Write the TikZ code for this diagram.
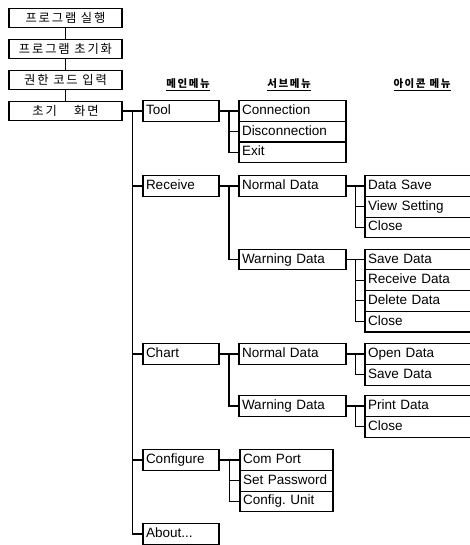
\documentclass[tikz,border=0pt]{standalone}
\usepackage{fontspec}
\setmainfont{Liberation Sans}
\newfontfamily\krfont[LetterSpace=15]{Noto Sans CJK KR}
\usetikzlibrary{positioning,calc}

\begin{document}
\begin{tikzpicture}[x=1pt, y=-1pt,
  startBox/.style={draw, line width=1.4pt, minimum width=113pt, minimum height=19pt, inner sep=0pt, font=\krfont\fontsize{12.3}{14}\selectfont},
  mainBox/.style={draw, line width=1.1pt, text width=70pt, inner xsep=3pt, inner ysep=0pt, minimum height=20.7pt, align=left, text height=9.5pt, text depth=2.5pt, font=\fontsize{13.5}{15}\selectfont},
  subBox/.style={mainBox, text width=101pt},
  confBox/.style={mainBox, text width=87pt},
  iconBox/.style={mainBox, text width=109pt},
  headLabel/.style={font=\krfont\bfseries\fontsize{10.5}{12}\selectfont},
  link/.style={line width=1.1pt},
]
\useasboundingbox (0,0) rectangle (470,545);

\def\xMain{181}  % main menu column
\def\xSub{292.5} % sub menu column
\def\xIcon{422.5} % icon menu column (runs past the right edge)

% start-up sequence
\foreach \i/\name/\y in {1/프로그램 실행/18, 2/프로그램 초기화/49, 3/권한 코드 입력/80, 4/초기\hspace{1.4em}화면/111} {
  \node[startBox] (start\i) at (65.5,\y) {\name};
}
\foreach \a/\b in {start1/start2, start2/start3, start3/start4} {
  \draw[link] (\a.south) -- (\b.north);
}

% column headings
\node[headLabel] (headMain) at (188,85) {\underline{메인메뉴}};
\node[headLabel] (headSub) at (289,85) {\underline{서브메뉴}};
\node[headLabel] (headIcon) at (422,85) {\underline{아이콘 메뉴}};

% main menu
\foreach \name/\label/\y in {tool/Tool/111, receive/Receive/186, chart/Chart/354, configure/Configure/460} {
  \node[mainBox] (\name) at (\xMain,\y) {\label};
}
\node[mainBox] (about) at (\xMain,534) {About...};
\coordinate (jMain) at ($(start4.east)!0.5!(tool.west)$);
\draw[link] (start4.east) -- (tool.west);
\foreach \m in {receive, chart, configure, about} {
  \draw[link] (jMain) |- (\m.west);
}

% sub menus
\foreach \i/\label/\y in {1/Connection/111, 2/Disconnection/131.7, 3/Exit/152.4} {
  \node[subBox] (tool\i) at (\xSub,\y) {\label};
}
\node[subBox] (recvNormal) at (\xSub,186) {Normal Data};
\node[subBox] (recvWarn) at (\xSub,259.5) {Warning Data};
\node[subBox] (chartNormal) at (\xSub,354) {Normal Data};
\node[subBox] (chartWarn) at (\xSub,406) {Warning Data};
\foreach \i/\label/\y in {1/Com Port/460, 2/Set Password/480.7, 3/Config.\ Unit/501.4} {
  \node[confBox] (conf\i) at (286.5,\y) {\label};
}

% icon menus
\foreach \i/\label/\y in {1/Data Save/186, 2/View Setting/206.7, 3/Close/227.4} {
  \node[iconBox] (rn\i) at (\xIcon,\y) {\label};
}
\foreach \i/\label/\y in {1/Save Data/259.5, 2/Receive Data/280.2, 3/Delete Data/300.9, 4/Close/321.6} {
  \node[iconBox] (rw\i) at (\xIcon,\y) {\label};
}
\foreach \i/\label/\y in {1/Open Data/354, 2/Save Data/374.7} {
  \node[iconBox] (cn\i) at (\xIcon,\y) {\label};
}
\foreach \i/\label/\y in {1/Print Data/406, 2/Close/426.7} {
  \node[iconBox] (cw\i) at (\xIcon,\y) {\label};
}

% branches: parent / first child / all children
\foreach \p/\f/\kids in {tool/tool1/{tool1,tool2,tool3}, receive/recvNormal/{recvNormal,recvWarn}, chart/chartNormal/{chartNormal,chartWarn}, configure/conf1/{conf1,conf2,conf3}, recvNormal/rn1/{rn1,rn2,rn3}, recvWarn/rw1/{rw1,rw2,rw3,rw4}, chartNormal/cn1/{cn1,cn2}, chartWarn/cw1/{cw1,cw2}} {
  \coordinate (j\p) at ($(\p.east)!0.5!(\f.west)$);
  \draw[link] (\p.east) -- (\f.west);
  \foreach \k in \kids {
    \draw[link] (j\p) |- (\k.west);
  }
}

\end{tikzpicture}
\end{document}
